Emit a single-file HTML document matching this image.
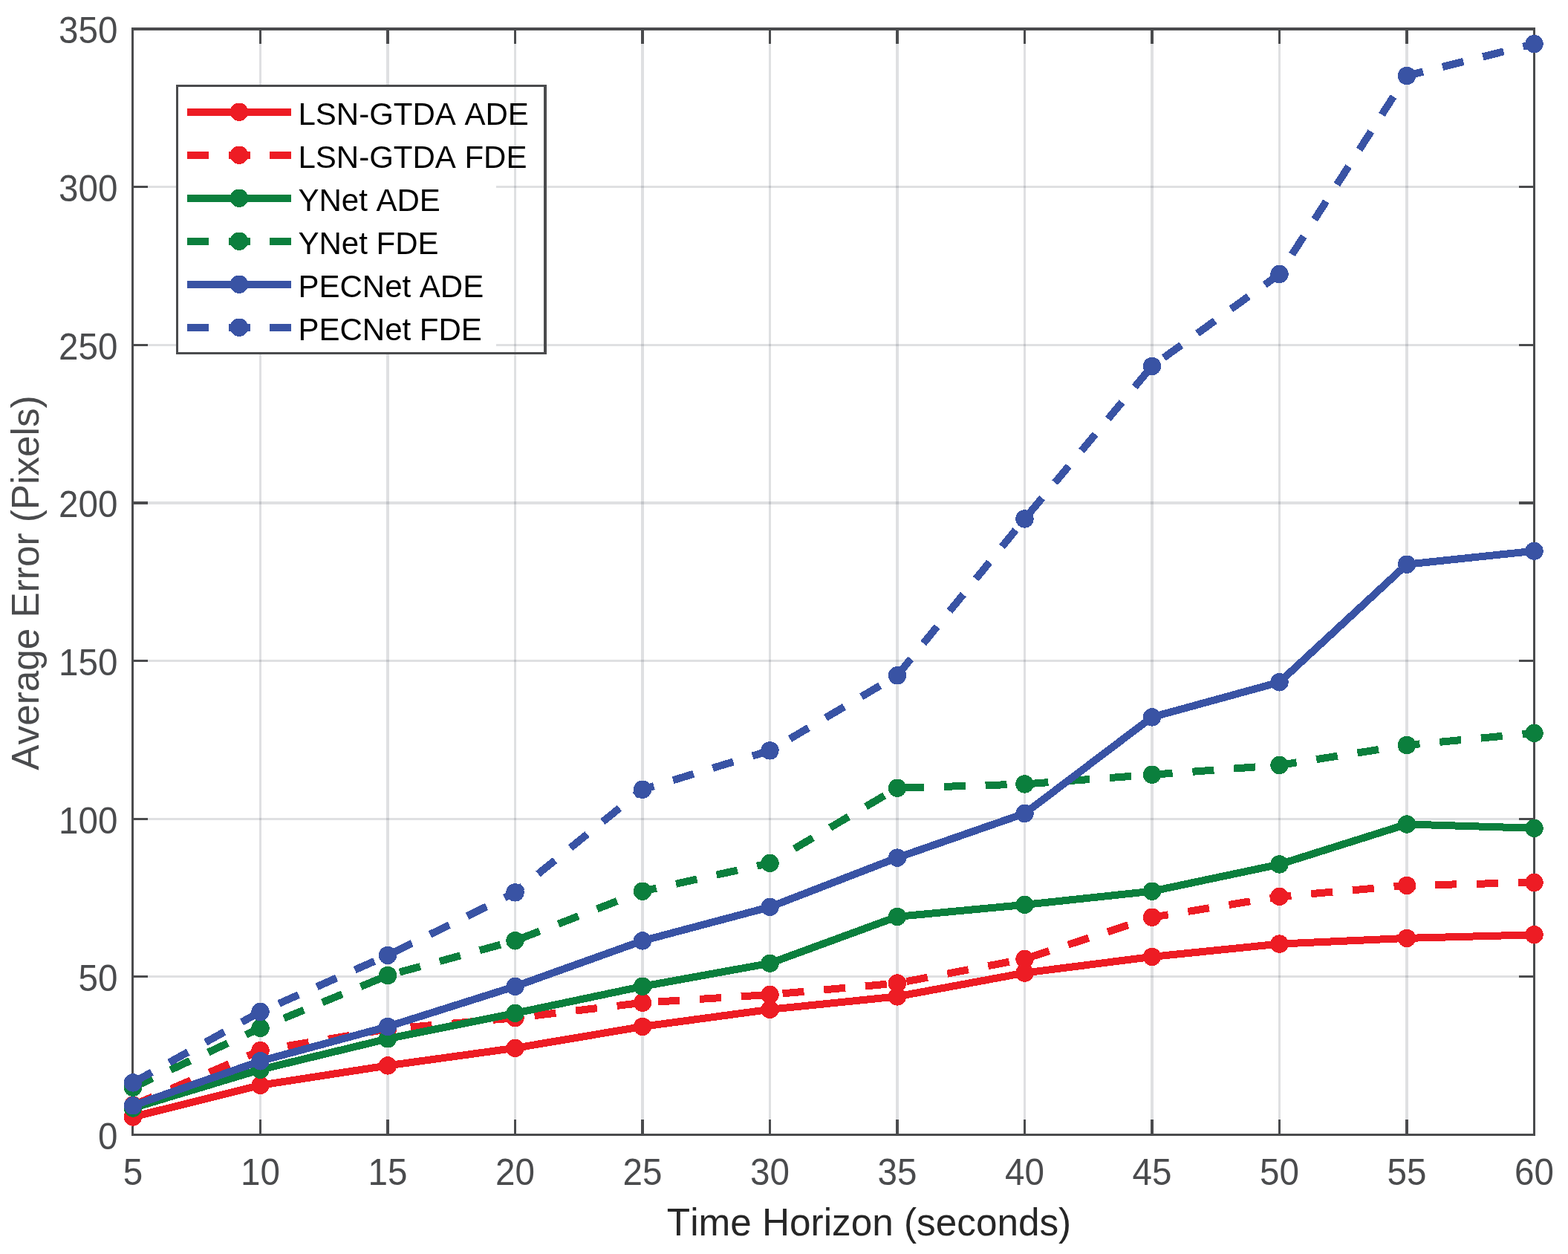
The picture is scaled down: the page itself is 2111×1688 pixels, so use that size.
<!DOCTYPE html><html><head><meta charset="utf-8"><title>Average Error vs Time Horizon</title><style>html,body{margin:0;padding:0;background:#fff;overflow:hidden}svg{display:block}text{font-family:"Liberation Sans",Arial,Helvetica,sans-serif;font-kerning:none}</style></head><body>
<svg width="2111" height="1688" viewBox="0 0 2111 1688" shape-rendering="crispEdges">
<rect x="0" y="0" width="2111" height="1688" fill="#fff"/>
<path d="M349 41H352V1526H349ZM520 41H524V1526H520ZM692 41H695V1526H692ZM863 41H867V1526H863ZM1035 41H1038V1526H1035ZM1206 41H1210V1526H1206ZM1378 41H1381V1526H1378ZM1549 41H1553V1526H1549ZM1721 41H1724V1526H1721ZM1892 41H1896V1526H1892Z" fill="rgb(42,48,62)" fill-opacity="0.15"/>
<path d="M180 1313H2064V1316H180ZM180 1101H2064V1104H180ZM180 888H2064V891H180ZM180 675H2064V679H180ZM180 463H2064V466H180ZM180 250H2064V253H180Z" fill="rgb(42,48,62)" fill-opacity="0.15"/>
<path d="M349 1529V1507H352V1529ZM349 37H352V59H349ZM520 1529V1507H524V1529ZM520 37H524V59H520ZM692 1529V1507H695V1529ZM692 37H695V59H692ZM863 1529V1507H867V1529ZM863 37H867V59H863ZM1035 1529V1507H1038V1529ZM1035 37H1038V59H1035ZM1206 1529V1507H1210V1529ZM1206 37H1210V59H1206ZM1378 1529V1507H1381V1529ZM1378 37H1381V59H1378ZM1549 1529V1507H1553V1529ZM1549 37H1553V59H1549ZM1721 1529V1507H1724V1529ZM1721 37H1724V59H1721ZM1892 1529V1507H1896V1529ZM1892 37H1896V59H1892ZM177 1313H199V1316H177ZM2045 1313H2067V1316H2045ZM177 1101H199V1104H177ZM2045 1101H2067V1104H2045ZM177 888H199V891H177ZM2045 888H2067V891H2045ZM177 675H199V679H177ZM2045 675H2067V679H2045ZM177 463H199V466H177ZM2045 463H2067V466H2045ZM177 250H199V253H177ZM2045 250H2067V253H2045ZM177 37H2067V41H177ZM177 1526H2067V1529H177ZM177 37H180V1529H177ZM2064 37H2067V1529H2064Z" fill="#4A4B4D"/>
<g fill="#ED1C24"><polyline points="179.0,1503.5 350.5,1460.8 522.0,1434.4 693.5,1410.8 865.0,1381.9 1036.5,1358.8 1208.0,1341.4 1379.5,1309.6 1551.0,1287.9 1722.5,1270.6 1894.0,1262.9 2065.5,1258.3" fill="none" stroke="#ED1C24" stroke-width="10" stroke-linejoin="miter" stroke-linecap="butt"/>
<circle cx="179.0" cy="1503.5" r="12.2"/><circle cx="350.5" cy="1460.8" r="12.2"/><circle cx="522.0" cy="1434.4" r="12.2"/><circle cx="693.5" cy="1410.8" r="12.2"/><circle cx="865.0" cy="1381.9" r="12.2"/><circle cx="1036.5" cy="1358.8" r="12.2"/><circle cx="1208.0" cy="1341.4" r="12.2"/><circle cx="1379.5" cy="1309.6" r="12.2"/><circle cx="1551.0" cy="1287.9" r="12.2"/><circle cx="1722.5" cy="1270.6" r="12.2"/><circle cx="1894.0" cy="1262.9" r="12.2"/><circle cx="2065.5" cy="1258.3" r="12.2"/>
</g>
<g fill="#ED1C24"><polyline points="179.0,1487.8 350.5,1414.1 522.0,1385.3 693.5,1370.2 865.0,1349.8 1036.5,1338.9 1208.0,1323.5 1379.5,1290.8 1551.0,1234.8 1722.5,1206.9 1894.0,1191.9 2065.5,1188.0" fill="none" stroke="#ED1C24" stroke-width="10" stroke-linejoin="miter" stroke-linecap="butt" stroke-dasharray="29 26.9"/>
<circle cx="179.0" cy="1487.8" r="12.2"/><circle cx="350.5" cy="1414.1" r="12.2"/><circle cx="522.0" cy="1385.3" r="12.2"/><circle cx="693.5" cy="1370.2" r="12.2"/><circle cx="865.0" cy="1349.8" r="12.2"/><circle cx="1036.5" cy="1338.9" r="12.2"/><circle cx="1208.0" cy="1323.5" r="12.2"/><circle cx="1379.5" cy="1290.8" r="12.2"/><circle cx="1551.0" cy="1234.8" r="12.2"/><circle cx="1722.5" cy="1206.9" r="12.2"/><circle cx="1894.0" cy="1191.9" r="12.2"/><circle cx="2065.5" cy="1188.0" r="12.2"/>
</g>
<g fill="#0B7F3D"><polyline points="179.0,1491.5 350.5,1439.8 522.0,1398.3 693.5,1363.9 865.0,1327.8 1036.5,1296.7 1208.0,1233.9 1379.5,1217.9 1551.0,1199.7 1722.5,1163.5 1894.0,1109.5 2065.5,1114.8" fill="none" stroke="#0B7F3D" stroke-width="10" stroke-linejoin="miter" stroke-linecap="butt"/>
<circle cx="179.0" cy="1491.5" r="12.2"/><circle cx="350.5" cy="1439.8" r="12.2"/><circle cx="522.0" cy="1398.3" r="12.2"/><circle cx="693.5" cy="1363.9" r="12.2"/><circle cx="865.0" cy="1327.8" r="12.2"/><circle cx="1036.5" cy="1296.7" r="12.2"/><circle cx="1208.0" cy="1233.9" r="12.2"/><circle cx="1379.5" cy="1217.9" r="12.2"/><circle cx="1551.0" cy="1199.7" r="12.2"/><circle cx="1722.5" cy="1163.5" r="12.2"/><circle cx="1894.0" cy="1109.5" r="12.2"/><circle cx="2065.5" cy="1114.8" r="12.2"/>
</g>
<g fill="#0B7F3D"><polyline points="179.0,1463.8 350.5,1383.8 522.0,1313.0 693.5,1266.3 865.0,1199.7 1036.5,1161.8 1208.0,1060.8 1379.5,1055.5 1551.0,1042.8 1722.5,1030.0 1894.0,1003.0 2065.5,986.8" fill="none" stroke="#0B7F3D" stroke-width="10" stroke-linejoin="miter" stroke-linecap="butt" stroke-dasharray="29 26.9"/>
<circle cx="179.0" cy="1463.8" r="12.2"/><circle cx="350.5" cy="1383.8" r="12.2"/><circle cx="522.0" cy="1313.0" r="12.2"/><circle cx="693.5" cy="1266.3" r="12.2"/><circle cx="865.0" cy="1199.7" r="12.2"/><circle cx="1036.5" cy="1161.8" r="12.2"/><circle cx="1208.0" cy="1060.8" r="12.2"/><circle cx="1379.5" cy="1055.5" r="12.2"/><circle cx="1551.0" cy="1042.8" r="12.2"/><circle cx="1722.5" cy="1030.0" r="12.2"/><circle cx="1894.0" cy="1003.0" r="12.2"/><circle cx="2065.5" cy="986.8" r="12.2"/>
</g>
<g fill="#3953A4"><polyline points="179.0,1488.3 350.5,1428.3 522.0,1382.0 693.5,1327.8 865.0,1266.4 1036.5,1220.9 1208.0,1154.6 1379.5,1095.0 1551.0,965.4 1722.5,918.3 1894.0,759.7 2065.5,741.7" fill="none" stroke="#3953A4" stroke-width="10" stroke-linejoin="miter" stroke-linecap="butt"/>
<circle cx="179.0" cy="1488.3" r="12.2"/><circle cx="350.5" cy="1428.3" r="12.2"/><circle cx="522.0" cy="1382.0" r="12.2"/><circle cx="693.5" cy="1327.8" r="12.2"/><circle cx="865.0" cy="1266.4" r="12.2"/><circle cx="1036.5" cy="1220.9" r="12.2"/><circle cx="1208.0" cy="1154.6" r="12.2"/><circle cx="1379.5" cy="1095.0" r="12.2"/><circle cx="1551.0" cy="965.4" r="12.2"/><circle cx="1722.5" cy="918.3" r="12.2"/><circle cx="1894.0" cy="759.7" r="12.2"/><circle cx="2065.5" cy="741.7" r="12.2"/>
</g>
<g fill="#3953A4"><polyline points="179.0,1457.4 350.5,1362.0 522.0,1285.9 693.5,1201.4 865.0,1062.8 1036.5,1010.4 1208.0,909.3 1379.5,698.5 1551.0,492.9 1722.5,369.0 1894.0,102.0 2065.5,59.1" fill="none" stroke="#3953A4" stroke-width="10" stroke-linejoin="miter" stroke-linecap="butt" stroke-dasharray="29 26.9"/>
<circle cx="179.0" cy="1457.4" r="12.2"/><circle cx="350.5" cy="1362.0" r="12.2"/><circle cx="522.0" cy="1285.9" r="12.2"/><circle cx="693.5" cy="1201.4" r="12.2"/><circle cx="865.0" cy="1062.8" r="12.2"/><circle cx="1036.5" cy="1010.4" r="12.2"/><circle cx="1208.0" cy="909.3" r="12.2"/><circle cx="1379.5" cy="698.5" r="12.2"/><circle cx="1551.0" cy="492.9" r="12.2"/><circle cx="1722.5" cy="369.0" r="12.2"/><circle cx="1894.0" cy="102.0" r="12.2"/><circle cx="2065.5" cy="59.1" r="12.2"/>
</g>
<g font-size="47.6" fill="#4A4B4D"><text transform="translate(179.0 1595) scale(1 1.03)" text-anchor="middle">5</text><text transform="translate(350.5 1595) scale(1 1.03)" text-anchor="middle">10</text><text transform="translate(522.0 1595) scale(1 1.03)" text-anchor="middle">15</text><text transform="translate(693.5 1595) scale(1 1.03)" text-anchor="middle">20</text><text transform="translate(865.0 1595) scale(1 1.03)" text-anchor="middle">25</text><text transform="translate(1036.5 1595) scale(1 1.03)" text-anchor="middle">30</text><text transform="translate(1208.0 1595) scale(1 1.03)" text-anchor="middle">35</text><text transform="translate(1379.5 1595) scale(1 1.03)" text-anchor="middle">40</text><text transform="translate(1551.0 1595) scale(1 1.03)" text-anchor="middle">45</text><text transform="translate(1722.5 1595) scale(1 1.03)" text-anchor="middle">50</text><text transform="translate(1894.0 1595) scale(1 1.03)" text-anchor="middle">55</text><text transform="translate(2065.5 1595) scale(1 1.03)" text-anchor="middle">60</text><text transform="translate(158.5 1546.5) scale(1 1.03)" text-anchor="end">0</text><text transform="translate(158.5 1333.5) scale(1 1.03)" text-anchor="end">50</text><text transform="translate(158.5 1121.5) scale(1 1.03)" text-anchor="end">100</text><text transform="translate(158.5 908.5) scale(1 1.03)" text-anchor="end">150</text><text transform="translate(158.5 696.0) scale(1 1.03)" text-anchor="end">200</text><text transform="translate(158.5 483.5) scale(1 1.03)" text-anchor="end">250</text><text transform="translate(158.5 270.5) scale(1 1.03)" text-anchor="end">300</text><text transform="translate(158.5 58.0) scale(1 1.03)" text-anchor="end">350</text></g>
<text transform="translate(1170 1662.7) scale(1 1.02)" font-size="51.3" fill="#262626" text-anchor="middle">Time Horizon (seconds)</text>
<text transform="translate(51.7 784.5) rotate(-90) scale(1 1.02)" font-size="51.3" fill="#4A4B4D" text-anchor="middle">Average Error (Pixels)</text>
<rect x="237" y="114" width="431" height="363" fill="#fff"/>
<path d="M237 114H736V117H237ZM237 474H736V477H237ZM237 114H240V477H237ZM732 114H736V477H732Z" fill="#4A4B4D"/>
<line x1="252" y1="150.7" x2="392" y2="150.7" stroke="#ED1C24" stroke-width="10"/>
<circle cx="322" cy="150.7" r="12.2" fill="#ED1C24"/>
<text transform="translate(401.5 167.9) scale(1 1.028)" font-size="42" fill="#000">LSN-GTDA ADE</text>
<line x1="252" y1="208.7" x2="392" y2="208.7" stroke="#ED1C24" stroke-width="10" stroke-dasharray="29 26.5"/>
<circle cx="322" cy="208.7" r="12.2" fill="#ED1C24"/>
<text transform="translate(401.5 225.9) scale(1 1.028)" font-size="42" fill="#000">LSN-GTDA FDE</text>
<line x1="252" y1="266.7" x2="392" y2="266.7" stroke="#0B7F3D" stroke-width="10"/>
<circle cx="322" cy="266.7" r="12.2" fill="#0B7F3D"/>
<text transform="translate(401.5 283.9) scale(1 1.028)" font-size="42" fill="#000">YNet ADE</text>
<line x1="252" y1="324.7" x2="392" y2="324.7" stroke="#0B7F3D" stroke-width="10" stroke-dasharray="29 26.5"/>
<circle cx="322" cy="324.7" r="12.2" fill="#0B7F3D"/>
<text transform="translate(401.5 341.9) scale(1 1.028)" font-size="42" fill="#000">YNet FDE</text>
<line x1="252" y1="382.7" x2="392" y2="382.7" stroke="#3953A4" stroke-width="10"/>
<circle cx="322" cy="382.7" r="12.2" fill="#3953A4"/>
<text transform="translate(401.5 399.9) scale(1 1.028)" font-size="42" fill="#000">PECNet ADE</text>
<line x1="252" y1="440.7" x2="392" y2="440.7" stroke="#3953A4" stroke-width="10" stroke-dasharray="29 26.5"/>
<circle cx="322" cy="440.7" r="12.2" fill="#3953A4"/>
<text transform="translate(401.5 457.9) scale(1 1.028)" font-size="42" fill="#000">PECNet FDE</text>
</svg></body></html>
